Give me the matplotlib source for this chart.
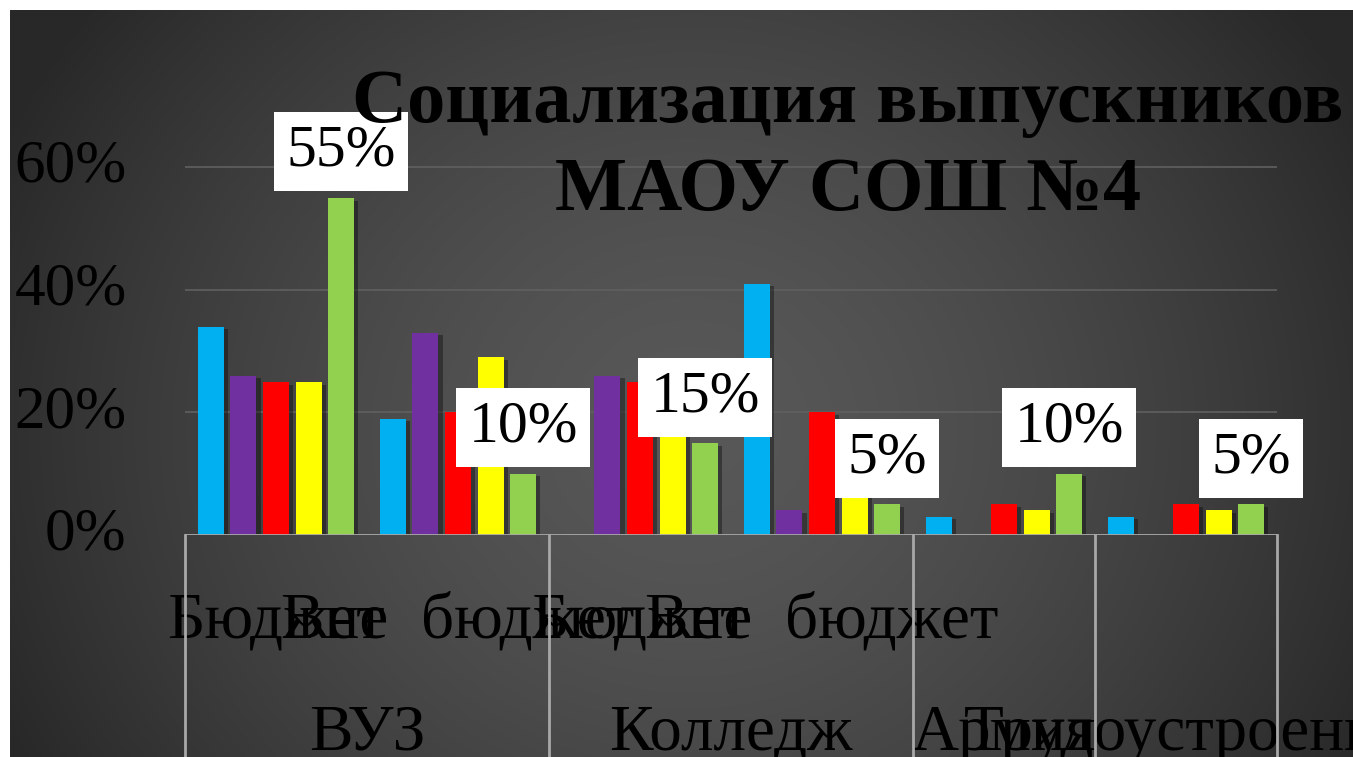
import numpy as np
import matplotlib
matplotlib.use("Agg")
import matplotlib.pyplot as plt
import matplotlib.patheffects as pe
from matplotlib.ticker import PercentFormatter
import matplotlib.transforms as mtransforms

# ---- data ----
groups = ["ВУЗ", "Колледж", "Армия", "Трудоустроение"]
group_spans = [(0, 1), (2, 3), (4, 4), (5, 5)]
subcats = ["Бюджет", "Вне  бюджет", "Бюджет", "Вне  бюджет", "", ""]
series_colors = ["#00B0F0", "#7030A0", "#FF0000", "#FFFF00", "#92D050"]
s_blue = [34, 19, 0, 41, 3, 3]
s_purple = [26, 33, 26, 4, 0, 0]
s_red = [25, 20, 25, 20, 5, 5]
s_yellow = [25, 29, 20, 8, 4, 4]
s_green = [55, 10, 15, 5, 10, 5]
series = [s_blue, s_purple, s_red, s_yellow, s_green]
green_labels = ["55%", "10%", "15%", "5%", "10%", "5%"]
yticks = [0, 20, 40, 60]

W, H = 1353, 757
fig = plt.figure(figsize=(W / 100, H / 100), dpi=100, facecolor="white")

# ---- background radial gradient ----
bg = fig.add_axes([10 / W, 0, (W - 10) / W, (H - 10) / H])
bg.set_axis_off()
yy, xx = np.mgrid[0:747, 0:1343]
cx, cy = 680, 420
d = np.sqrt(((xx - cx) / 760.0) ** 2 + ((yy - cy) / 700.0) ** 2)
d = np.clip(d, 0, 1) ** 1.5
val = (0x58 - (0x58 - 0x28) * d) / 255.0
img = np.dstack([val, val, val])
bg.imshow(img, aspect="auto", extent=(0, 1, 0, 1), origin="upper")
bg.set_xlim(0, 1)
bg.set_ylim(0, 1)

# ---- main axes ----
px100 = 613.0
y0_px = 535
ymax = 70
ax_bottom = (H - y0_px) / H
ax_height = ymax / 100 * px100 / H
ax = fig.add_axes([185 / W, ax_bottom, (1277 - 185) / W, ax_height])
ax.patch.set_alpha(0)
ax.set_xlim(-0.5, 5.5)
ax.set_ylim(0, ymax)

x = np.arange(len(s_blue))
bw = 0.143
step = 0.179
shadow = [pe.SimplePatchShadow(offset=(3, -2), shadow_rgbFace="black", alpha=0.35), pe.Normal()]
for i, (vals, col) in enumerate(zip(series, series_colors)):
    bars = ax.bar(x + (i - 2) * step, vals, width=bw, color=col, zorder=3)
    for b in bars:
        b.set_path_effects(shadow)

serif = "Liberation Serif"
ax.set_yticks(yticks)
ax.yaxis.set_major_formatter(PercentFormatter(decimals=0))
ax.tick_params(axis="y", length=0, pad=42, labelsize=44, labelcolor="black")
for lab in ax.get_yticklabels():
    lab.set_fontfamily(serif)
    lab.set_verticalalignment("center")
ax.set_xticks([])
ax.grid(axis="y", color="#606060", lw=1.2, zorder=0)
for s in ax.spines.values():
    s.set_visible(False)
ax.axhline(0, color="#a8a8a8", lw=2, zorder=4)

# data labels (green series)
for i, (v, t) in enumerate(zip(s_green, green_labels)):
    ax.annotate(t, (x[i] + 2 * step, v), xytext=(0, 19), textcoords="offset pixels",
                ha="center", va="bottom", fontsize=43, family=serif, color="black",
                bbox=dict(boxstyle="square,pad=0.21", fc="white", ec="none"), zorder=6)

# multi-level category axis
tr_sub = mtransforms.blended_transform_factory(ax.transData, fig.transFigure)
for i, t in enumerate(subcats):
    if t:
        ax.text(x[i], (H - 638) / H, t, transform=tr_sub, ha="center", va="baseline",
                fontsize=47, family=serif, color="black", clip_on=False)
for g, (a, b) in zip(groups, group_spans):
    ax.text((a + b) / 2, (H - 750) / H, g, transform=tr_sub, ha="center", va="baseline",
            fontsize=47, family=serif, color="black", clip_on=False)
for xb in [-0.5, 1.5, 3.5, 4.5, 5.5]:
    ax.plot([xb, xb], [0, -y0_px / px100 * 100 * 1.0], transform=ax.transData,
            color="#a8a8a8", lw=2, clip_on=False, zorder=4)

# title
fig.text(848 / W, (H - 122) / H, "Социализация выпускников", ha="center", va="baseline",
         fontsize=55, family=serif, weight="bold", color="black")
fig.text(848 / W, (H - 210) / H, "МАОУ СОШ №4", ha="center", va="baseline",
         fontsize=55, family=serif, weight="bold", color="black")

fig.savefig("out.png", dpi=100, facecolor="white")
